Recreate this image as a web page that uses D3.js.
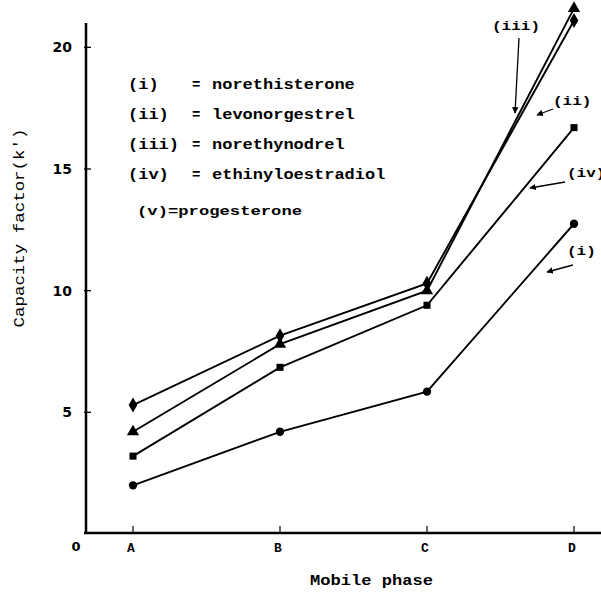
<!DOCTYPE html>
<html>
<head>
<meta charset="UTF-8">
<script src="https://d3js.org/d3.v7.min.js"></script>
<style>
  body { margin: 0; background: #fff; }
  text { font-family: "Liberation Mono", "DejaVu Sans Mono", monospace; fill: #000; }
</style>
</head>
<body>
<div id="chart"></div>
<script>
// mobile phases on the x axis
var phases = ["A", "B", "C", "D"];
// capacity factor k'
var seriesI   = [2.0, 4.2, 5.85, 12.75];   // circles
var seriesIV  = [3.2, 6.85, 9.4, 16.7];    // squares
var seriesIII = [4.2, 7.8, 10.0, 21.6];    // triangles
var seriesII  = [5.3, 8.15, 10.3, 21.1];   // diamonds
var yTicks = [5, 10, 15, 20];
var legendKeys = ["(i)", "(ii)", "(iii)", "(iv)"];
var legendNames = ["norethisterone", "levonorgestrel", "norethynodrel", "ethinyloestradiol"];

var width = 601, height = 592;
var x0 = 86, yBase = 534;

var svg = d3.select("#chart").append("svg")
  .attr("width", width).attr("height", height);

var x = d3.scalePoint().domain(phases).range([133, 574]);
var y = d3.scaleLinear().domain([0, 21]).range([yBase, 23]);

// axes
svg.append("line").attr("x1", x0).attr("x2", x0).attr("y1", y(21)).attr("y2", yBase)
  .attr("stroke", "#000").attr("stroke-width", 2.5);
svg.append("line").attr("x1", x0 - 2).attr("x2", width).attr("y1", yBase - 1).attr("y2", yBase - 1)
  .attr("stroke", "#000").attr("stroke-width", 2.5);

// y ticks
svg.selectAll(".yt").data(yTicks).enter().append("line")
  .attr("x1", x0 - 2).attr("x2", x0 + 5)
  .attr("y1", function(d) { return y(d); }).attr("y2", function(d) { return y(d); })
  .attr("stroke", "#000").attr("stroke-width", 1.3);
svg.selectAll(".yl").data(yTicks).enter().append("text")
  .attr("x", 72).attr("y", function(d) { return y(d) + 5; })
  .attr("text-anchor", "end").style("font-size", "14px").style("font-weight", "bold")
  .style("font-family", "DejaVu Sans, sans-serif")
  .text(function(d) { return d; });
svg.append("text").attr("x", 76).attr("y", 551).attr("text-anchor", "middle")
  .style("font-size", "13px").style("font-weight", "bold")
  .style("font-family", "DejaVu Sans, sans-serif").text("0");

// x ticks
svg.selectAll(".xt").data(phases).enter().append("line")
  .attr("x1", function(d) { return x(d); }).attr("x2", function(d) { return x(d); })
  .attr("y1", yBase - 8).attr("y2", yBase - 1)
  .attr("stroke", "#000").attr("stroke-width", 1.2);
svg.selectAll(".xl").data(phases).enter().append("text")
  .attr("x", function(d) { return x(d) - 2; }).attr("y", 552)
  .attr("text-anchor", "middle").style("font-size", "13px").style("font-weight", "bold")
  .text(function(d) { return d; });

// axis titles
svg.append("text").attr("x", 310).attr("y", 585)
  .attr("textLength", 123).attr("lengthAdjust", "spacingAndGlyphs")
  .style("font-size", "15px").style("font-weight", "bold").text("Mobile phase");
svg.append("text").attr("transform", "translate(24,228) rotate(-90)").attr("text-anchor", "middle")
  .attr("textLength", 199).attr("lengthAdjust", "spacingAndGlyphs")
  .style("font-size", "14px").text("Capacity factor(k')");

// series lines + markers
var series = [
  { vals: seriesI, shape: d3.symbolCircle, size: 55 },
  { vals: seriesIV, shape: d3.symbolSquare, size: 50 },
  { vals: seriesIII, shape: d3.symbolTriangle, size: 65 },
  { vals: seriesII, shape: d3.symbolDiamond, size: 65 }
];
var line = d3.line().x(function(d, i) { return x(phases[i]); }).y(function(d) { return y(d); });

series.forEach(function(s) {
  svg.append("path").attr("d", line(s.vals)).attr("fill", "none")
    .attr("stroke", "#000").attr("stroke-width", 1.9);
  svg.selectAll(null).data(s.vals).enter().append("path")
    .attr("transform", function(d, i) { return "translate(" + x(phases[i]) + "," + y(d) + ")"; })
    .attr("d", d3.symbol().type(s.shape).size(s.size))
    .attr("fill", "#000");
});

// legend
var legY = [89, 119, 149, 179];
legendKeys.forEach(function(k, i) {
  svg.append("text").attr("x", 128).attr("y", legY[i])
    .attr("textLength", k.length * 10.2).attr("lengthAdjust", "spacingAndGlyphs")
    .style("font-size", "14px").style("font-weight", "bold").text(k);
  svg.append("text").attr("x", 192).attr("y", legY[i])
    .style("font-size", "14px").style("font-weight", "bold").text("=");
  svg.append("text").attr("x", 212).attr("y", legY[i])
    .attr("textLength", legendNames[i].length * 10.2).attr("lengthAdjust", "spacingAndGlyphs")
    .style("font-size", "14px").style("font-weight", "bold").text(legendNames[i]);
});
svg.append("text").attr("x", 137).attr("y", 215)
  .attr("textLength", 165).attr("lengthAdjust", "spacingAndGlyphs")
  .style("font-size", "12px").style("font-weight", "bold").text("(v)=progesterone");

// callout labels with arrows
var callouts = [
  { t: "(iii)", tx: 492, ty: 30, ax1: 519, ay1: 38, ax2: 515, ay2: 113 },
  { t: "(ii)", tx: 553, ty: 105, ax1: 553, ay1: 109, ax2: 537, ay2: 115 },
  { t: "(iv)", tx: 567, ty: 177, ax1: 565, ay1: 182, ax2: 530, ay2: 188 },
  { t: "(i)", tx: 567, ty: 255, ax1: 573, ay1: 265, ax2: 547, ay2: 272 }
];
var defs = svg.append("defs");
defs.append("marker").attr("id", "arr").attr("viewBox", "0 0 10 10").attr("refX", 9).attr("refY", 5)
  .attr("markerWidth", 5).attr("markerHeight", 5).attr("orient", "auto")
  .append("path").attr("d", "M0,0 L10,5 L0,10 z").attr("fill", "#000");
callouts.forEach(function(c) {
  svg.append("text").attr("x", c.tx).attr("y", c.ty)
    .attr("textLength", c.t.length * 9.6).attr("lengthAdjust", "spacingAndGlyphs")
    .style("font-size", "12px").style("font-weight", "bold").text(c.t);
  svg.append("line").attr("x1", c.ax1).attr("y1", c.ay1).attr("x2", c.ax2).attr("y2", c.ay2)
    .attr("stroke", "#000").attr("stroke-width", 1.3).attr("marker-end", "url(#arr)");
});
</script>
</body>
</html>
